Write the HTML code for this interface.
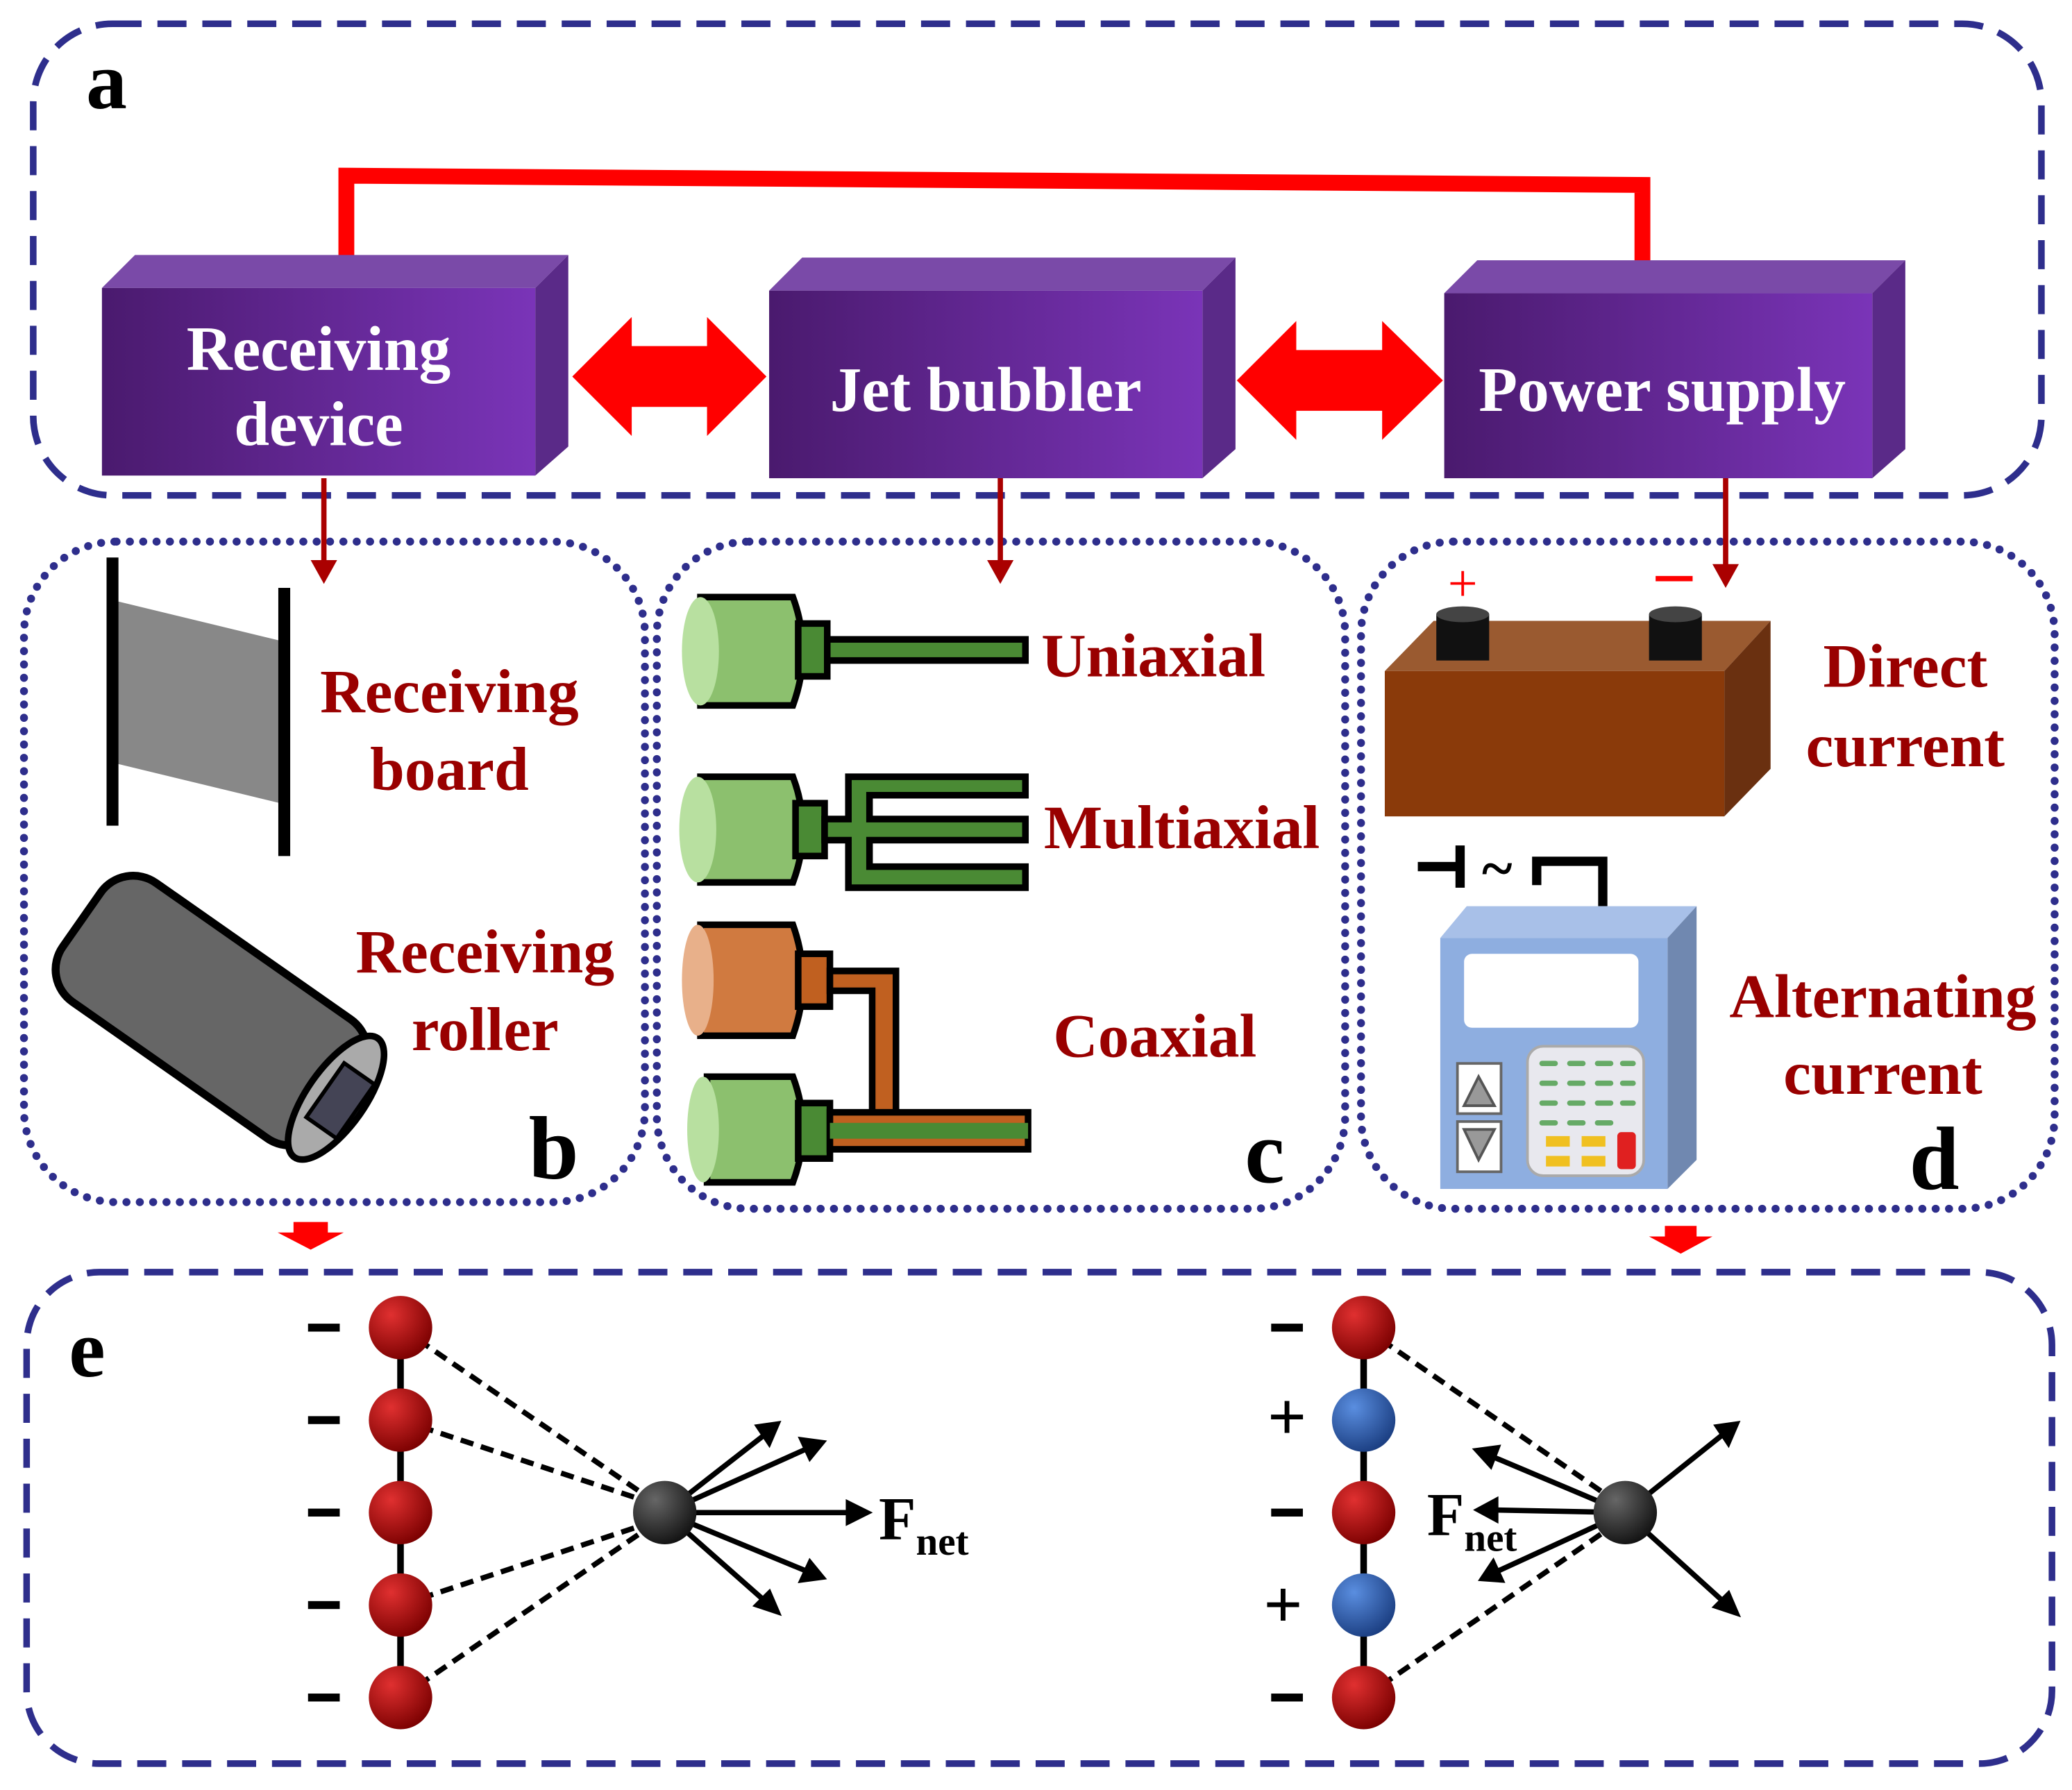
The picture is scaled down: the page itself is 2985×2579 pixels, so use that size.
<!DOCTYPE html>
<html><head><meta charset="utf-8"><style>html,body{margin:0;padding:0;background:#fff}svg{display:block}</style></head><body>
<svg width="2985" height="2579" viewBox="0 0 1568 1355" xmlns="http://www.w3.org/2000/svg" font-family="'Liberation Serif',serif" font-weight="bold">
<defs>
<linearGradient id="pf" x1="0" x2="1" y1="0" y2="0"><stop offset="0" stop-color="#4a1a6e"/><stop offset="1" stop-color="#7a34b8"/></linearGradient>
<radialGradient id="rb" cx="0.35" cy="0.3" r="0.75"><stop offset="0" stop-color="#e03030"/><stop offset="1" stop-color="#7a0000"/></radialGradient>
<radialGradient id="bb" cx="0.35" cy="0.3" r="0.75"><stop offset="0" stop-color="#5a8ee0"/><stop offset="1" stop-color="#1a3d80"/></radialGradient>
<radialGradient id="kb" cx="0.35" cy="0.3" r="0.75"><stop offset="0" stop-color="#666"/><stop offset="1" stop-color="#111"/></radialGradient>
</defs>
<g fill="none" stroke="#2e2e8c">
<rect x="25" y="18" width="1520" height="357" rx="60" stroke-width="5" stroke-dasharray="22 12"/>
<rect x="20" y="963" width="1533" height="372" rx="55" stroke-width="5" stroke-dasharray="22 12"/>
<g stroke-width="6" stroke-dasharray="0.1 10" stroke-linecap="round">
<rect x="18" y="410" width="470" height="500" rx="70"/>
<rect x="497" y="410" width="521" height="505" rx="70"/>
<rect x="1030" y="410" width="525" height="505" rx="70"/>
</g></g>
<text x="65" y="82" font-size="62">a</text>
<polyline points="262,198 262,133 1243,140 1243,203" fill="none" stroke="#ff0000" stroke-width="12"/>
<g>
<polygon points="77,218 102,193 430,193 405,218" fill="#7a4aa8"/><polygon points="405,218 430,193 430,338 405,360" fill="#5a2a88"/><rect x="77" y="218" width="328" height="142" fill="url(#pf)"/>
<polygon points="582,220 607,195 935,195 910,220" fill="#7a4aa8"/><polygon points="910,220 935,195 935,340 910,362" fill="#5a2a88"/><rect x="582" y="220" width="328" height="142" fill="url(#pf)"/>
<polygon points="1093,222 1118,197 1442,197 1417,222" fill="#7a4aa8"/><polygon points="1417,222 1442,197 1442,340 1417,362" fill="#5a2a88"/><rect x="1093" y="222" width="324" height="140" fill="url(#pf)"/>
</g>
<g fill="#fff" font-size="48" text-anchor="middle">
<text x="241" y="280">Receiving</text><text x="241" y="337">device</text>
<text x="746" y="311">Jet bubbler</text>
<text x="1258" y="311">Power supply</text>
</g>
<g fill="#ff0000">
<polygon points="433,285 478,240 478,262 535,262 535,240 580,285 535,330 535,308 478,308 478,330"/>
<polygon points="936,288 981,243 981,265 1046,265 1046,243 1092,288 1046,333 1046,311 981,311 981,333"/>
<polygon points="222,925 248,925 248,933 260,933 235,946 210,933 222,933"/>
<polygon points="1260,928 1284,928 1284,936 1296,936 1272,949 1248,936 1260,936"/>
</g>
<g stroke="#aa0000" stroke-width="4" fill="#aa0000">
<line x1="245" y1="362" x2="245" y2="425"/><polygon points="235,424 255,424 245,442" stroke="none"/>
<line x1="757" y1="362" x2="757" y2="425"/><polygon points="747,424 767,424 757,442" stroke="none"/>
<line x1="1306" y1="362" x2="1306" y2="428"/><polygon points="1296,427 1316,427 1306,445" stroke="none"/>
</g>
<polygon points="88,455 212,485 212,608 88,578" fill="#888"/>
<line x1="85" y1="422" x2="85" y2="625" stroke="#000" stroke-width="9"/>
<line x1="215" y1="445" x2="215" y2="648" stroke="#000" stroke-width="9"/>
<g transform="rotate(35 160 765)">
<rect x="40" y="710" width="240" height="110" rx="30" fill="#666" stroke="#000" stroke-width="6"/>
<ellipse cx="275" cy="765" rx="22" ry="55" fill="#aaa" stroke="#000" stroke-width="5"/>
<rect x="265" y="740" width="28" height="50" fill="#445" stroke="#000" stroke-width="3"/>
</g>
<g fill="#990000" font-size="47" text-anchor="middle">
<text x="340" y="539">Receiving</text><text x="340" y="598">board</text>
<text x="367" y="736">Receiving</text><text x="367" y="795">roller</text>
</g>
<text x="400" y="892" font-size="68">b</text>
<g stroke="#000" stroke-width="5">
<g><path d="M530,452 L600,452 Q615,493 600,534 L530,534 Z" fill="#8cc06e"/><ellipse cx="530" cy="493" rx="14" ry="41" fill="#b8e0a0" stroke="none"/><rect x="604" y="472" width="22" height="40" fill="#4a8a34"/><rect x="626" y="484" width="150" height="16" fill="#4a8a34"/></g>
<g><path d="M530,588 L600,588 Q615,628 600,668 L530,668 Z" fill="#8cc06e"/><ellipse cx="528" cy="628" rx="14" ry="40" fill="#b8e0a0" stroke="none"/><rect x="602" y="608" width="22" height="40" fill="#4a8a34"/>
<path d="M624,620 L642,620 L642,588 L776,588 L776,602 L658,602 L658,620 L776,620 L776,636 L658,636 L658,656 L776,656 L776,672 L642,672 L642,636 L624,636 Z" fill="#4a8a34"/></g>
<g><path d="M530,700 L600,700 Q615,742 600,784 L530,784 Z" fill="#d07a40"/><ellipse cx="528" cy="742" rx="12" ry="42" fill="#e8b08a" stroke="none"/><rect x="604" y="722" width="24" height="40" fill="#c06020"/>
<path d="M628,735 L678,735 L678,845 L660,845 L660,750 L628,750 Z" fill="#c06020"/></g>
<g><path d="M535,815 L600,815 Q615,855 600,895 L535,895 Z" fill="#8cc06e"/><ellipse cx="532" cy="855" rx="12" ry="40" fill="#b8e0a0" stroke="none"/><rect x="604" y="835" width="24" height="42" fill="#4a8a34"/>
<rect x="628" y="842" width="150" height="28" fill="#c06020"/><rect x="628" y="850" width="150" height="12" fill="#4a8a34" stroke="none"/></g>
</g>
<g fill="#990000" font-size="47">
<text x="788" y="512">Uniaxial</text><text x="790" y="642">Multiaxial</text><text x="797" y="800">Coaxial</text>
</g>
<text x="942" y="895" font-size="68">c</text>
<polygon points="1048,508 1085,470 1340,470 1305,508" fill="#9a5a30"/>
<polygon points="1305,508 1340,470 1340,582 1305,618" fill="#6a3010"/>
<rect x="1048" y="508" width="257" height="110" fill="#8a3a0a"/>
<rect x="1087" y="465" width="40" height="35" fill="#111"/><ellipse cx="1107" cy="465" rx="20" ry="6" fill="#444"/>
<rect x="1248" y="465" width="40" height="35" fill="#111"/><ellipse cx="1268" cy="465" rx="20" ry="6" fill="#444"/>
<text x="1107" y="455" font-size="40" fill="#ff0000" text-anchor="middle" font-weight="normal">+</text>
<rect x="1253" y="436" width="28" height="4" fill="#ff0000"/>
<g fill="#990000" font-size="47" text-anchor="middle"><text x="1442" y="520">Direct</text><text x="1442" y="580">current</text>
<text x="1425" y="770">Alternating</text><text x="1425" y="828">current</text></g>
<g stroke="#000" stroke-width="7" fill="none"><line x1="1073" y1="656" x2="1105" y2="656"/><line x1="1105" y1="640" x2="1105" y2="672"/><polyline points="1163,670 1163,652 1213,652 1213,686"/></g>
<text x="1133" y="672" font-size="44" text-anchor="middle">~</text>
<polygon points="1090,710 1110,686 1284,686 1262,710" fill="#a8c0e8"/>
<polygon points="1262,710 1284,686 1284,878 1262,900" fill="#7088b0"/>
<rect x="1090" y="710" width="172" height="190" fill="#8eaee0"/>
<rect x="1108" y="722" width="132" height="56" rx="6" fill="#fff"/>
<rect x="1103" y="805" width="33" height="38" fill="#fff" stroke="#666" stroke-width="2"/><polygon points="1108,837 1131,837 1119,815" fill="#999" stroke="#555" stroke-width="2"/>
<rect x="1103" y="849" width="33" height="38" fill="#fff" stroke="#666" stroke-width="2"/><polygon points="1108,855 1131,855 1119,878" fill="#999" stroke="#555" stroke-width="2"/>
<rect x="1156" y="792" width="88" height="98" rx="12" fill="#e8e8ee" stroke="#aaa" stroke-width="2"/>
<g fill="#6a6"><rect x="1165" y="803" width="14" height="4" rx="2"/><rect x="1186" y="803" width="14" height="4" rx="2"/><rect x="1207" y="803" width="14" height="4" rx="2"/><rect x="1226" y="803" width="12" height="4" rx="2"/>
<rect x="1165" y="818" width="14" height="4" rx="2"/><rect x="1186" y="818" width="14" height="4" rx="2"/><rect x="1207" y="818" width="14" height="4" rx="2"/><rect x="1226" y="818" width="12" height="4" rx="2"/>
<rect x="1165" y="833" width="14" height="4" rx="2"/><rect x="1186" y="833" width="14" height="4" rx="2"/><rect x="1207" y="833" width="14" height="4" rx="2"/><rect x="1226" y="833" width="12" height="4" rx="2"/>
<rect x="1165" y="848" width="14" height="4" rx="2"/><rect x="1186" y="848" width="14" height="4" rx="2"/><rect x="1207" y="848" width="14" height="4" rx="2"/></g>
<g fill="#f0c020"><rect x="1170" y="860" width="18" height="8"/><rect x="1197" y="860" width="18" height="8"/><rect x="1170" y="875" width="18" height="8"/><rect x="1197" y="875" width="18" height="8"/></g>
<rect x="1224" y="857" width="14" height="28" rx="3" fill="#e02020"/>
<text x="1445" y="900" font-size="68">d</text>
<text x="52" y="1042" font-size="62">e</text>
<line x1="303" y1="1005" x2="303" y2="1285" stroke="#000" stroke-width="5"/>
<line x1="1032" y1="1005" x2="1032" y2="1285" stroke="#000" stroke-width="5"/>
<g stroke="#000" stroke-width="4" stroke-dasharray="10 6" fill="none">
<line x1="303" y1="1005" x2="500" y2="1140"/><line x1="303" y1="1075" x2="500" y2="1140"/><line x1="303" y1="1215" x2="500" y2="1150"/><line x1="303" y1="1285" x2="500" y2="1150"/>
<line x1="1032" y1="1005" x2="1228" y2="1140"/><line x1="1032" y1="1285" x2="1228" y2="1150"/>
</g>
<g stroke="#000" stroke-width="4" fill="#000">
<line x1="503" y1="1145" x2="580" y2="1085"/><polygon points="588,1078 574,1080 582,1092"/>
<line x1="503" y1="1145" x2="612" y2="1096"/><polygon points="622,1092 607,1090 613,1103"/>
<line x1="503" y1="1145" x2="645" y2="1145"/><polygon points="656,1145 642,1138 642,1152"/>
<line x1="503" y1="1145" x2="612" y2="1190"/><polygon points="622,1194 613,1183 607,1196"/>
<line x1="503" y1="1145" x2="580" y2="1213"/><polygon points="588,1220 582,1206 573,1215"/>
<line x1="1230" y1="1145" x2="1305" y2="1085"/><polygon points="1314,1078 1300,1080 1308,1092"/>
<line x1="1230" y1="1145" x2="1305" y2="1213"/><polygon points="1314,1221 1308,1207 1299,1216"/>
<line x1="1230" y1="1145" x2="1128" y2="1102"/><polygon points="1118,1098 1128,1109 1133,1096"/>
<line x1="1230" y1="1145" x2="1130" y2="1143"/><polygon points="1119,1143 1132,1136 1132,1150"/>
<line x1="1230" y1="1145" x2="1132" y2="1190"/><polygon points="1122,1195 1136,1196 1130,1183"/>
</g>
<g>
<circle cx="303" cy="1005" r="24" fill="url(#rb)"/><circle cx="303" cy="1075" r="24" fill="url(#rb)"/><circle cx="303" cy="1145" r="24" fill="url(#rb)"/><circle cx="303" cy="1215" r="24" fill="url(#rb)"/><circle cx="303" cy="1285" r="24" fill="url(#rb)"/>
<circle cx="1032" cy="1005" r="24" fill="url(#rb)"/><circle cx="1032" cy="1075" r="24" fill="url(#bb)"/><circle cx="1032" cy="1145" r="24" fill="url(#rb)"/><circle cx="1032" cy="1215" r="24" fill="url(#bb)"/><circle cx="1032" cy="1285" r="24" fill="url(#rb)"/>
<circle cx="503" cy="1145" r="24" fill="url(#kb)"/><circle cx="1230" cy="1145" r="24" fill="url(#kb)"/>
</g>
<g fill="#000">
<rect x="233" y="1002" width="24" height="6"/><rect x="233" y="1072" width="24" height="6"/><rect x="233" y="1142" width="24" height="6"/><rect x="233" y="1212" width="24" height="6"/><rect x="233" y="1282" width="24" height="6"/>
<rect x="962" y="1002" width="24" height="6"/><rect x="962" y="1142" width="24" height="6"/><rect x="962" y="1282" width="24" height="6"/>
</g>
<g font-size="52" text-anchor="middle"><text x="974" y="1090">+</text><text x="971" y="1232">+</text></g>
<text x="665" y="1165" font-size="46">F<tspan font-size="30" dy="12">net</tspan></text>
<text x="1080" y="1162" font-size="46">F<tspan font-size="30" dy="12">net</tspan></text>
</svg>
</body></html>
